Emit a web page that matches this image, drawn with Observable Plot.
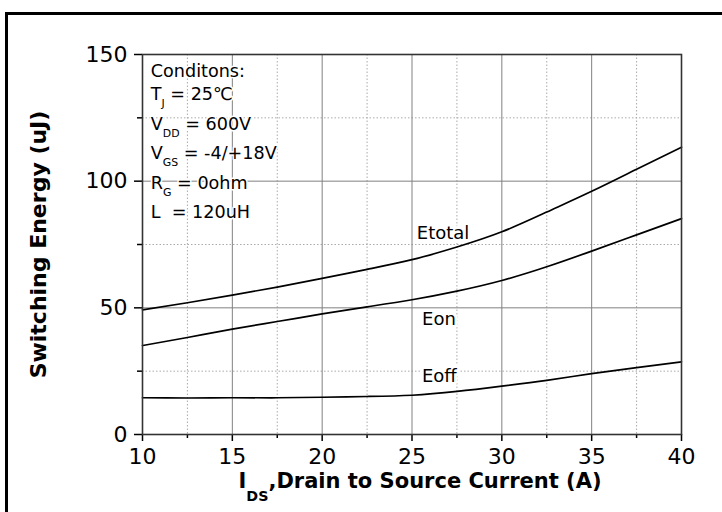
<!DOCTYPE html>
<html>
<head>
<meta charset="utf-8">
<script src="https://cdn.jsdelivr.net/npm/d3@7"></script>
<script src="https://cdn.jsdelivr.net/npm/@observablehq/plot@0.6"></script>
<style>
  html, body { margin: 0; padding: 0; background: #fff; overflow: hidden; }
  #wrap { position: relative; width: 722px; height: 512px; }
  #border { position: absolute; left: 5px; top: 12px; right: -20px; bottom: -20px;
            border-left: 3px solid #000; border-top: 3px solid #000; pointer-events: none; }
</style>
</head>
<body>
<div id="wrap"><div id="border"></div></div>
<script>
// ---- data ----
const current = [10, 12.5, 15, 17.5, 20, 22.5, 25, 27.5, 30, 32.5, 35, 37.5, 40];
const eTotal  = [49.2, 52.0, 55.0, 58.2, 61.6, 65.2, 69.0, 74.0, 80.0, 87.8, 96.0, 104.7, 113.4];
const eOn     = [35.1, 38.3, 41.6, 44.6, 47.6, 50.4, 53.2, 56.6, 60.8, 66.2, 72.4, 78.8, 85.2];
const eOff    = [14.5, 14.4, 14.5, 14.5, 14.7, 15.0, 15.5, 17.0, 19.1, 21.4, 24.0, 26.4, 28.7];

const xMajorTicks = [10, 15, 20, 25, 30, 35, 40];
const xMinorTicks = [12.5, 17.5, 22.5, 27.5, 32.5, 37.5];
const yMajorTicks = [0, 50, 100, 150];
const yMinorTicks = [25, 75, 125];

const seriesNames = ["Etotal", "Eon", "Eoff"];
const seriesLabelX = [26.73, 26.5, 26.52];
const seriesLabelY = [77.0, 43.4, 20.6];

const conditionLines = ["Conditons:", "T_{J} = 25℃", "V_{DD} = 600V", "V_{GS} = -4/+18V", "R_{G} = 0ohm", "L  = 120uH"];
const conditionX = [10.46, 10.46, 10.46, 10.46, 10.46, 10.46];
const conditionY = [141.0, 132.1, 120.3, 108.7, 97.0, 85.6];

const xLabel = "I_{DS},Drain to Source Current (A)";
const yLabel = "Switching Energy (uJ)";

// ---- tables ----
const series = [eTotal, eOn, eOff];
const rows = [];
series.forEach((vals, s) => current.forEach((c, i) => rows.push({name: seriesNames[s], x: c, y: vals[i]})));
const labelRows = seriesNames.map((n, i) => ({name: n, x: seriesLabelX[i], y: seriesLabelY[i]}));
const condRows = conditionLines.map((t, i) => ({t, x: conditionX[i], y: conditionY[i]}));

// subscript renderer: "_{..}" becomes a lowered, smaller tspan
function subs(scale, shift) {
  return function (index, scales, values, dims, ctx, next) {
    const g = next(index, scales, values, dims, ctx);
    g.setAttribute("paint-order", "stroke");
    g.querySelectorAll("text").forEach(t => {
      const s = t.textContent;
      if (!s.includes("_{")) return;
      t.textContent = "";
      let shifted = false;
      for (const p of s.split(/(_\{[^}]*\})/)) {
        if (!p) continue;
        const ts = document.createElementNS("http://www.w3.org/2000/svg", "tspan");
        if (p.startsWith("_{")) {
          ts.textContent = p.slice(2, -1);
          ts.setAttribute("font-size", scale + "em");
          ts.setAttribute("dy", shift + "px");
          shifted = true;
        } else {
          ts.textContent = p;
          if (shifted) { ts.setAttribute("dy", (-shift) + "px"); shifted = false; }
        }
        t.appendChild(ts);
      }
    });
    return g;
  };
}

const chart = Plot.plot({
  width: 722,
  height: 512,
  marginLeft: 142,
  marginRight: 41,
  marginTop: 54,
  marginBottom: 78,
  style: {fontFamily: "DejaVu Sans", fontSize: "22px", background: "white", color: "#000"},
  x: {domain: [10, 40]},
  y: {domain: [0, 150]},
  marks: [
    Plot.ruleX(xMinorTicks, {stroke: "#aaa", strokeWidth: 1, strokeDasharray: "1.5,2"}),
    Plot.ruleY(yMinorTicks, {stroke: "#aaa", strokeWidth: 1, strokeDasharray: "1.5,2"}),
    Plot.ruleX(xMajorTicks.slice(1, -1), {stroke: "#808080", strokeWidth: 1}),
    Plot.ruleY(yMajorTicks.slice(1, -1), {stroke: "#808080", strokeWidth: 1}),
    Plot.axisX(xMajorTicks, {tickSize: 7, tickPadding: 7, strokeWidth: 1.5, label: null}),
    Plot.axisX(xMinorTicks, {tickSize: 4, strokeWidth: 1.5, tickFormat: () => "", label: null}),
    Plot.axisY(yMajorTicks, {tickSize: 8, tickPadding: 7, strokeWidth: 1.5, label: null}),
    Plot.axisY(yMinorTicks, {tickSize: 5, strokeWidth: 1.5, tickFormat: () => "", label: null}),
    Plot.line(rows, {x: "x", y: "y", z: "name", stroke: "#000", strokeWidth: 1.7, curve: "natural"}),
    Plot.frame({stroke: "#333", strokeWidth: 1.6}),
    Plot.text(labelRows, {x: "x", y: "y", text: "name", textAnchor: "middle", lineAnchor: "bottom",
      fontSize: 18, fill: "#000", stroke: "white", strokeWidth: 6, render: subs(0.6, 6)}),
    Plot.text(condRows, {x: "x", y: "y", text: "t", textAnchor: "start", lineAnchor: "bottom",
      fontSize: 17.6, fill: "#000", stroke: "white", strokeWidth: 3, render: subs(0.62, 7)}),
    Plot.text([xLabel], {frameAnchor: "bottom", textAnchor: "middle", lineAnchor: "bottom", dx: 8, dy: 53,
      fontSize: 21, fontWeight: "bold", fill: "#000", render: subs(0.68, 13)}),
    Plot.text([yLabel], {frameAnchor: "left", textAnchor: "middle", lineAnchor: "bottom", rotate: -90, dx: -97,
      fontSize: 22, fontWeight: "bold", fill: "#000"})
  ]
});
document.getElementById("wrap").prepend(chart);
</script>
</body>
</html>
